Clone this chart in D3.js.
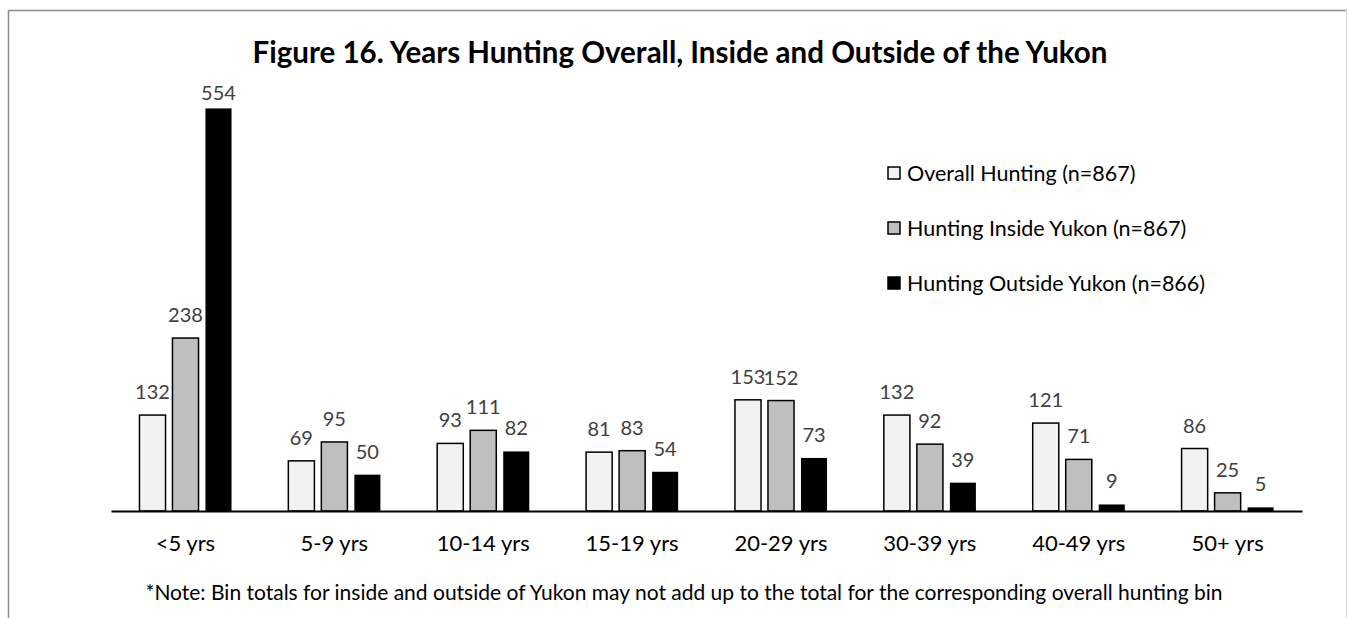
<!DOCTYPE html>
<html>
<head>
<meta charset="utf-8">
<script src="https://cdn.jsdelivr.net/npm/d3@7/dist/d3.min.js"></script>
<style>
  body { margin: 0; background: #fff; }
  svg text { font-family: "Lato", "Open Sans", sans-serif; }
</style>
</head>
<body>
<div id="chart"></div>
<script>
// Data
var categories = ["<5 yrs", "5-9 yrs", "10-14 yrs", "15-19 yrs", "20-29 yrs", "30-39 yrs", "40-49 yrs", "50+ yrs"];
var overall = [132, 69, 93, 81, 153, 132, 121, 86];
var insideYukon = [238, 95, 111, 83, 152, 92, 71, 25];
var outsideYukon = [554, 50, 82, 54, 73, 39, 9, 5];
var seriesNames = ["Overall Hunting (n=867)", "Hunting Inside Yukon (n=867)", "Hunting Outside Yukon (n=866)"];
var seriesColors = ["#f2f2f2", "#bfbfbf", "#000000"];
var titleText = "Figure 16. Years Hunting Overall, Inside and Outside of the Yukon";
var noteText = "*Note: Bin totals for inside and outside of Yukon may not add up to the total for the corresponding overall hunting bin";

var width = 1348, height = 618;

var series = [overall, insideYukon, outsideYukon];
var rows = categories.map(function(c, i) {
  return { cat: c, values: series.map(function(s, j) { return { key: j, value: s[i] }; }) };
});

var svg = d3.select("#chart")
  .append("svg")
  .attr("width", width)
  .attr("height", height);

// Frame
svg.append("line").attr("x1", 8).attr("x2", 1347).attr("y1", 10.5).attr("y2", 10.5)
  .attr("stroke", "#8c8c8c").attr("stroke-width", 1.5);
svg.append("line").attr("x1", 8.5).attr("x2", 8.5).attr("y1", 10).attr("y2", height)
  .attr("stroke", "#8c8c8c").attr("stroke-width", 1.5);
svg.append("line").attr("x1", 1346.5).attr("x2", 1346.5).attr("y1", 10).attr("y2", height)
  .attr("stroke", "#d9d9d9").attr("stroke-width", 1);

// Title
svg.append("text")
  .attr("x", 680)
  .attr("y", 63)
  .attr("text-anchor", "middle")
  .style("font-size", "29.5px")
  .style("font-weight", "bold")
  .attr("fill", "#000")
  .text(titleText);

// Scales
var x0 = d3.scaleBand()
  .domain(categories)
  .range([111, 1302]);

var x1 = d3.scaleBand()
  .domain([0, 1, 2])
  .range([25, 124])
  .paddingInner(0.21)
  .paddingOuter(0.105);

var y = d3.scaleLinear()
  .domain([0, 600])
  .range([511, 75]);

var plotTop = 100; // labels are kept inside the plot area

// Bars
var groups = svg.append("g")
  .attr("class", "bars")
  .selectAll("g")
  .data(rows)
  .enter()
  .append("g")
  .attr("transform", d => "translate(" + x0(d.cat) + ",0)");

groups.selectAll("rect")
  .data(d => d.values)
  .enter()
  .append("rect")
  .attr("x", d => x1(d.key))
  .attr("width", x1.bandwidth())
  .attr("y", d => y(d.value))
  .attr("height", d => y(0) - y(d.value))
  .attr("fill", d => seriesColors[d.key])
  .attr("stroke", "#000")
  .attr("stroke-width", d => d.key == 2 ? 0 : 1.5);

// Values
groups.selectAll("text")
  .data(d => d.values)
  .enter()
  .append("text")
  .attr("x", d => x1(d.key) + x1.bandwidth() / 2)
  .attr("y", d => Math.max(plotTop, y(d.value) - 16))
  .attr("text-anchor", "middle")
  .style("font-size", "20px")
  .attr("fill", "#404040")
  .text(d => d.value);

// Axis
var xAxis = d3.axisBottom(x0).tickSize(0).tickPadding(0);
var axisG = svg.append("g")
  .attr("class", "x axis")
  .attr("transform", "translate(0," + y(0) + ")")
  .call(xAxis);
axisG.select(".domain").attr("stroke", "#000").attr("stroke-width", 2);
axisG.selectAll("text")
  .attr("dy", 0)
  .attr("y", 40)
  .style("font-size", "22px")
  .attr("fill", "#000");

// Legend
var legend = svg.append("g")
  .attr("class", "legend")
  .selectAll("g")
  .data(seriesNames)
  .enter()
  .append("g")
  .attr("transform", (d, i) => "translate(888," + (173 + i * 55) + ")");

legend.append("rect")
  .attr("x", 0)
  .attr("y", -6)
  .attr("width", 12)
  .attr("height", 12)
  .attr("fill", (d, i) => seriesColors[i])
  .attr("stroke", "#000")
  .attr("stroke-width", 1.5);

legend.append("text")
  .attr("x", 19)
  .attr("y", 7.5)
  .style("font-size", "21.5px")
  .attr("fill", "#000")
  .text(d => d);

// Note
svg.append("text")
  .attr("x", 684)
  .attr("y", 600)
  .attr("text-anchor", "middle")
  .style("font-size", "21px")
  .attr("fill", "#000")
  .text(noteText);
</script>
</body>
</html>
